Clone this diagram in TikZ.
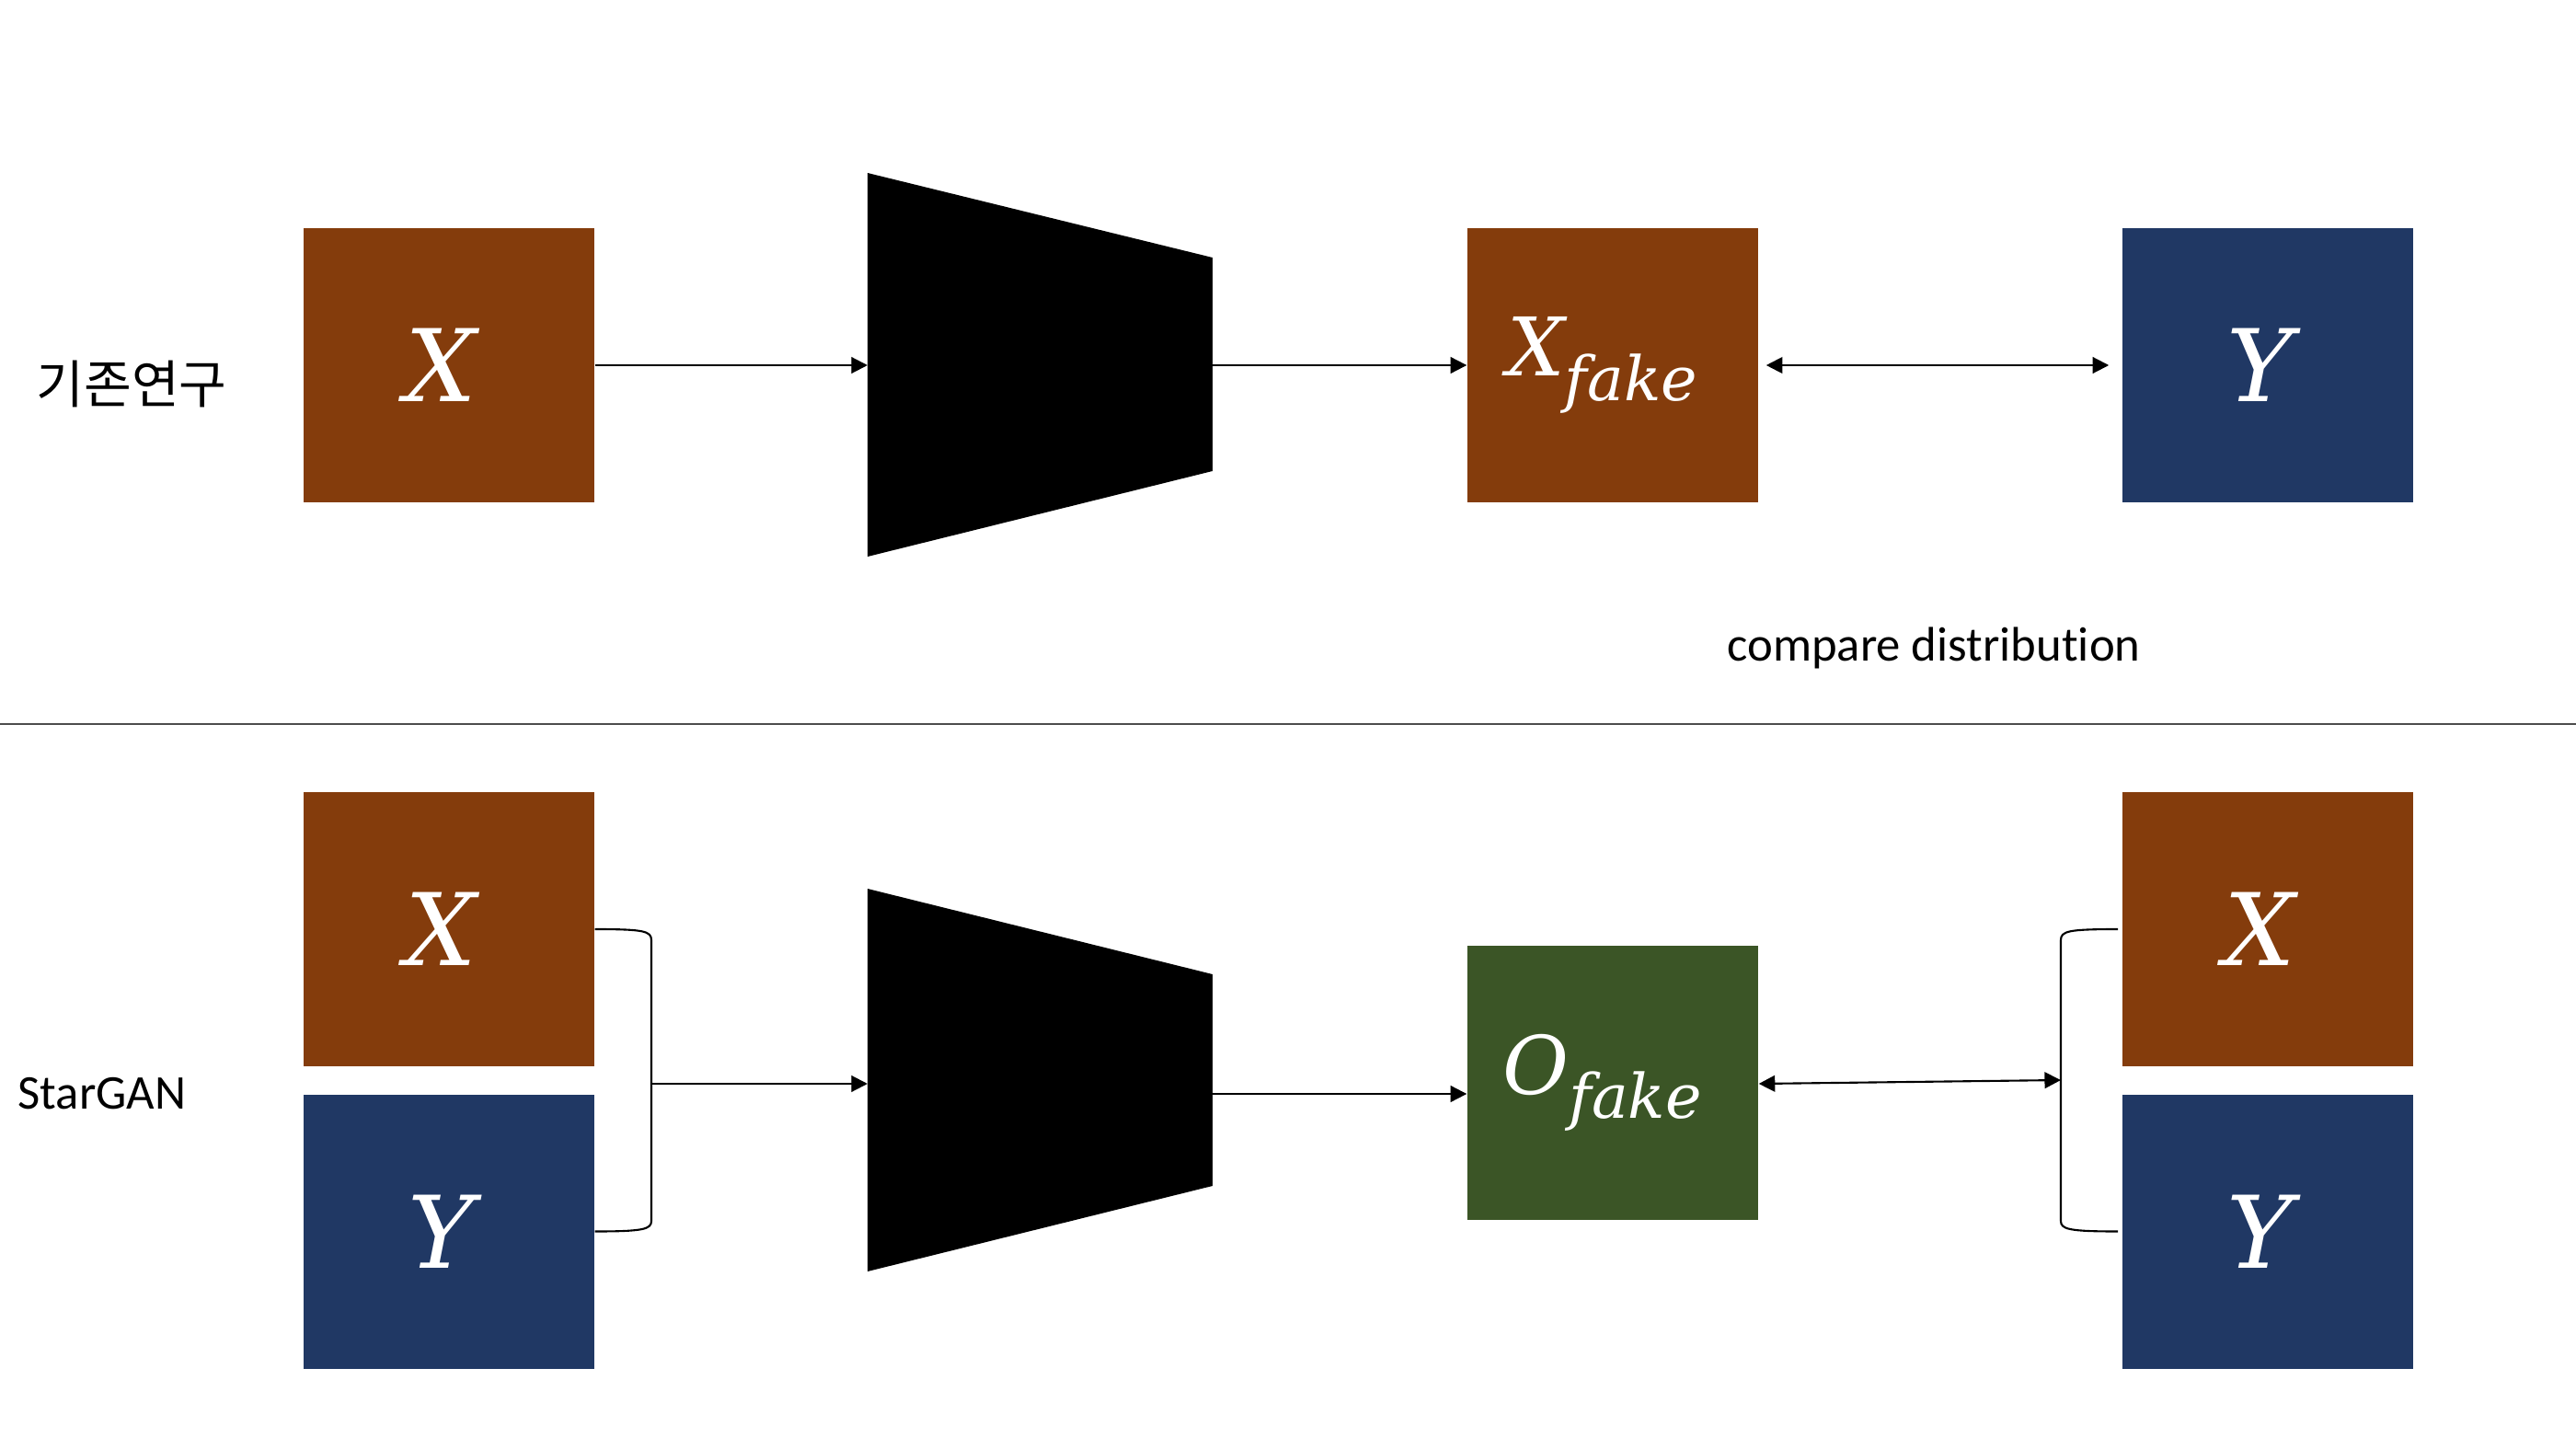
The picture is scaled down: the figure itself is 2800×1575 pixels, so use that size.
\documentclass[tikz,border=0pt]{standalone}
\usepackage{fontspec}
\setmainfont{Carlito}[RawFeature={-liga;-clig;-dlig;-calt}]
\newfontfamily\krfont{Noto Sans CJK KR}
\newfontfamily\varfont{DejaVu Serif}
\usetikzlibrary{arrows.meta}
\definecolor{xbrown}{HTML}{843C0C}
\definecolor{ynavy}{HTML}{203864}
\definecolor{ogreen}{HTML}{3B5526}
\newcommand{\bigvar}[1]{{\varfont\itshape\fontsize{31}{31}\selectfont #1\kern5pt}}
\newcommand{\fakevar}[1]{{\varfont\itshape\fontsize{25}{25}\selectfont #1\raisebox{-7.5pt}{\fontsize{19}{19}\selectfont fake}\kern6.5pt}}

\begin{document}
\begin{tikzpicture}[x=0.1mm, y=-0.1mm,
    box/.style={minimum width=31.6mm, minimum height=29.8mm, inner sep=0pt, text=white},
    link/.style={line width=0.6pt, -{Triangle[length=5pt, width=5pt]}},
    both/.style={line width=0.6pt, {Triangle[length=5pt, width=5pt]}-{Triangle[length=5pt, width=5pt]}},
    label/.style={font=\fontsize{15}{15}\selectfont}]

    \useasboundingbox (0, 0) rectangle (2800, 1575);

    \node[label] (kr) at (143, 417) {\krfont\fontsize{16}{16}\selectfont 기존연구};
    \node[label] (sg) at (111, 1189) {StarGAN};
    \node[label] (cmp) at (2102, 704) {compare distribution};

    \draw[black!70, line width=0.5pt] (0, 787) -- (2800, 787);

    \node[box, fill=xbrown] (x1) at (488, 397) {\bigvar{X}};
    \node[box, fill=xbrown] (xf) at (1753, 397) {\fakevar{X}};
    \node[box, fill=ynavy] (y1) at (2465, 397) {\bigvar{Y}};

    \fill (943, 188) -- (1318, 280) -- (1318, 512) -- (943, 605) -- cycle;
    \coordinate (g1in) at (943, 397);
    \coordinate (g1out) at (1318, 397);

    \draw[link] (x1.east) -- (g1in);
    \draw[link] (g1out) -- (xf.west);
    \draw[both, shorten <=2.3pt, shorten >=4pt] (xf.east) -- (y1.west);

    \node[box, fill=xbrown] (x2) at (488, 1010) {\bigvar{X}};
    \node[box, fill=ynavy] (y2) at (488, 1338.5) {\bigvar{Y}};
    \node[box, fill=ogreen] (of) at (1753, 1177) {\fakevar{O}};
    \node[box, fill=xbrown] (x3) at (2465, 1010) {\bigvar{X}};
    \node[box, fill=ynavy] (y3) at (2465, 1338.5) {\bigvar{Y}};

    \fill (943, 966) -- (1318, 1059) -- (1318, 1289) -- (943, 1382) -- cycle;
    \coordinate (g2in) at (943, 1178);
    \coordinate (g2out) at (1318, 1189);

    \coordinate (lj) at (708, 1178);
    \coordinate (rj) at (2240, 1174);

    \draw[line width=0.6pt] (x2.east) .. controls (700, 1010) and (708, 1012) .. (708, 1022)
        -- (708, 1327) .. controls (708, 1336) and (700, 1338.5) .. (y2.east);
    \draw[line width=0.6pt] (2302, 1010) .. controls (2248, 1010) and (2240, 1012) .. (2240, 1022)
        -- (2240, 1327) .. controls (2240, 1336) and (2248, 1338.5) .. (2302, 1338.5);

    \draw[link] (lj) -- (g2in);
    \draw[link] (g2out) -- (g2out -| of.west);
    \draw[both] (of.east |- 0, 1178) -- (rj);
\end{tikzpicture}
\end{document}
